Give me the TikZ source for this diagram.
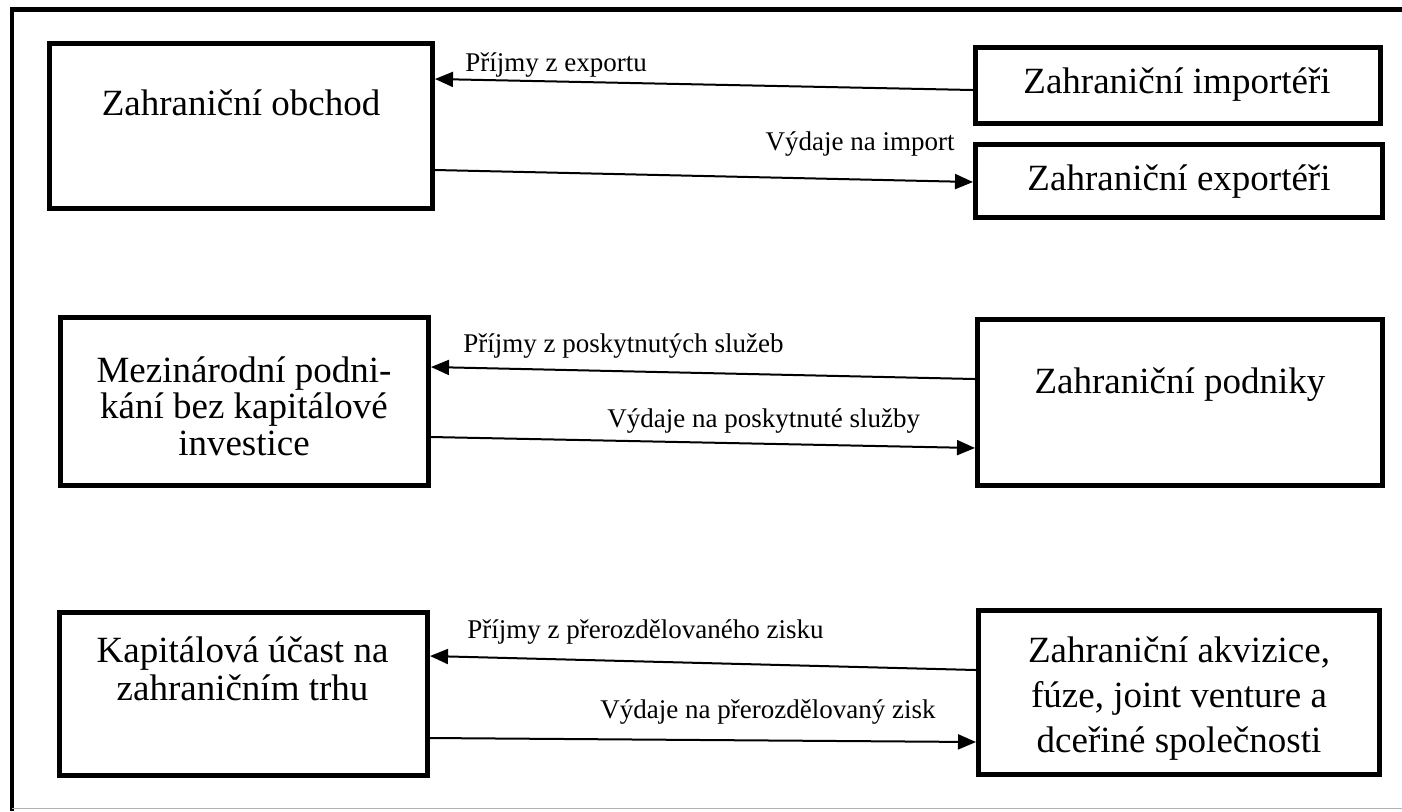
\documentclass[tikz,border=0pt]{standalone}
\usepackage{fontspec}
\setmainfont{Liberation Serif}
\newfontfamily\tnr{Liberation Serif}
\usetikzlibrary{arrows.meta}
\begin{document}
\begin{tikzpicture}[x=0.5pt,y=-0.5pt,
  box/.style={draw, line width=2.5pt, inner sep=0pt, outer sep=1.25pt},
  arr/.style={-{Triangle[length=9pt,width=7.5pt]}, line width=1pt},
  lab/.style={font=\tnr\fontsize{13.5pt}{16pt}\selectfont, inner sep=0pt},
  btxt/.style={font=\tnr\fontsize{18.5pt}{19pt}\selectfont, inner sep=0pt, align=center, anchor=base}
]
\useasboundingbox[fill=white] (0,0) rectangle (1402,811);
% outer frame
\draw[line width=2.25pt, line join=miter] (12,811) -- (12,9.5) -- (1402,9.5);
\draw[gray!60, line width=0.75pt] (12,808.5) -- (1402,808.5);

% boxes
\node[box, minimum width=191.5pt, minimum height=82.5pt] (obchod) at (241,126) {};
\node[box, minimum width=202.5pt, minimum height=38pt] (imp) at (1178,85.5) {};
\node[box, minimum width=203.5pt, minimum height=36.5pt] (exp) at (1179,181) {};
\node[box, minimum width=184pt, minimum height=84pt] (mezi) at (244.5,401.5) {};
\node[box, minimum width=202.5pt, minimum height=83pt] (podniky) at (1180,402.5) {};
\node[box, minimum width=184pt, minimum height=81.5pt] (kap) at (243.5,694) {};
\node[box, minimum width=200.5pt, minimum height=82pt] (akviz) at (1179,692.5) {};

% box texts (base anchor = baseline of last line)
\node[btxt] (t1) at (241,115) {Zahraniční obchod};
\node[btxt] (t2) at (1177,93) {Zahraniční importéři};
\node[btxt] (t3) at (1179,190) {Zahraniční exportéři};
\node[btxt, font=\tnr\fontsize{18.5pt}{18.25pt}\selectfont] (t4) at (244,455) {Mezinárodní podni-\\kání bez kapitálové\\investice};
\node[btxt] (t5) at (1180,393) {Zahraniční podniky};
\node[btxt] (t6) at (242.5,700) {Kapitálová účast na\\zahraničním trhu};
\node[btxt, font=\tnr\fontsize{18.5pt}{22.5pt}\selectfont] (t7) at (1179,752) {Zahraniční akvizice,\\fúze, joint venture a\\dceřiné společnosti};

% connectors
\draw[arr] (imp.west |- 0,90) -- (obchod.east |- 0,79);
\draw[arr] (obchod.east |- 0,170) -- (exp.west |- 0,182);
\draw[arr] (podniky.west |- 0,379) -- (mezi.east |- 0,367);
\draw[arr] (mezi.east |- 0,437) -- (podniky.west |- 0,448);
\draw[arr] (akviz.west |- 0,670) -- (kap.east |- 0,656);
\draw[arr] (kap.east |- 0,738) -- (akviz.west |- 0,742);

% connector labels
\node[lab, anchor=base west] (l1) at (465,71) {Příjmy z exportu};
\node[lab, anchor=base east] (l2) at (955,150) {Výdaje na import};
\node[lab, anchor=base west] (l3) at (463,352) {Příjmy z poskytnutých služeb};
\node[lab, anchor=base west] (l4) at (607,427) {Výdaje na poskytnuté služby};
\node[lab, anchor=base west] (l5) at (467,638) {Příjmy z přerozdělovaného zisku};
\node[lab, anchor=base west] (l6) at (600,718) {Výdaje na přerozdělovaný zisk};
\end{tikzpicture}
\end{document}
